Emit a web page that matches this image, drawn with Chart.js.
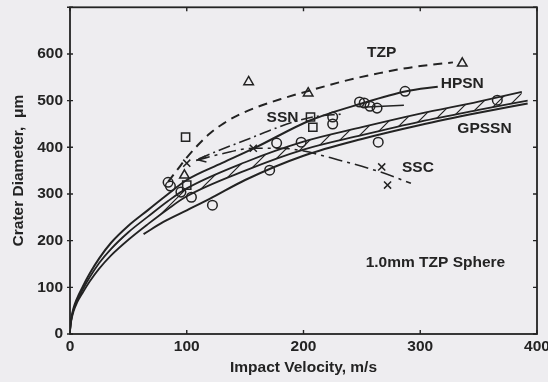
<!doctype html>
<html lang="en">
<head>
<meta charset="utf-8">
<title>Crater Diameter vs Impact Velocity</title>
<script src="https://cdn.jsdelivr.net/npm/chart.js@4.4.1/dist/chart.umd.min.js"></script>
<style>
    html, body { margin: 0; padding: 0; background: #eeedf0; }
</style>
</head>
<body>
<canvas id="myCanvas" width="548" height="382"></canvas>
<script>
    // measured points (impact velocity m/s, crater diameter um)
    const circleV = [84, 86, 95, 104, 122, 171, 177, 198, 225, 225, 248, 252, 257, 263, 264, 287, 366];
    const circleD = [325, 317, 304, 293, 276, 351, 409, 411, 450, 465, 497, 495, 488, 484, 411, 520, 501];
    const triV = [98, 153, 204, 336];
    const triD = [340, 540, 516, 580];
    const squareV = [99, 100, 206, 208];
    const squareD = [422, 319, 465, 443];
    const crossV = [100, 157, 267, 272];
    const crossD = [366, 398, 358, 319];

    // fitted curves
    const tzpV = [84, 92, 100, 110, 120, 132, 145, 160, 180, 206, 238, 265, 294, 328];
    const tzpD = [326, 352, 378, 406, 430, 452, 470, 486, 503, 522, 544, 559, 572, 582];
    const hpsnV = [0, 1, 3, 6, 11, 17, 25, 35, 50, 67, 84, 100, 130, 160, 205, 250, 288, 315];
    const hpsnD = [10, 32, 55, 76, 102, 130, 162, 195, 232, 266, 300, 330, 366, 401, 457, 494, 520, 530];
    const ssnV = [110, 130, 150, 170, 191, 210, 232];
    const ssnD = [375, 396, 415, 435, 454, 466, 471];
    const shortV = [250, 286];
    const shortD = [486, 490];
    const sscV = [108, 130, 157, 180, 198, 230, 266, 292];
    const sscD = [372, 386, 398, 398, 393, 373, 347, 323];
    const bandUpV = [0, 1, 3, 6, 11, 17, 25, 35, 50, 67, 84, 100, 150, 200, 250, 300, 350, 387];
    const bandUpD = [8, 30, 52, 72, 96, 122, 152, 182, 218, 252, 285, 312, 368, 412, 443, 472, 498, 519];
    const bandLoV = [0, 1, 3, 6, 11, 17, 25, 35, 50, 67, 84, 100, 150, 200, 250, 300, 350, 392];
    const bandLoD = [6, 27, 48, 67, 89, 113, 140, 168, 202, 236, 268, 295, 350, 395, 426, 455, 480, 500];
    const lowV = [63, 80, 100, 120, 150, 200, 250, 300, 350, 392];
    const lowD = [214, 240, 265, 290, 330, 382, 418, 448, 474, 494];

    const xTicks = [0, 100, 200, 300, 400];
    const yTicks = [0, 100, 200, 300, 400, 500, 600, 700];

    const noteText = ['TZP', 'HPSN', 'SSN', 'GPSSN', 'SSC', '1.0mm TZP Sphere'];
    const noteV = [267, 336, 182, 355, 298, 313];
    const noteD = [602, 536, 464, 440, 357, 153];

    const ink = '#232323';
    const font = '"Liberation Sans", Arial, sans-serif';

    function pts(xs, ys) {
        return xs.map((v, i) => ({x: v, y: ys[i]}));
    }

    var canvas = document.getElementById('myCanvas');
    var ctx = canvas.getContext('2d');

    // hatch for the GPSSN band
    var hc = document.createElement('canvas');
    hc.width = 15; hc.height = 15;
    var hg = hc.getContext('2d');
    hg.strokeStyle = ink;
    hg.lineWidth = 1.2;
    hg.beginPath();
    hg.moveTo(0, 15); hg.lineTo(15, 0);
    hg.moveTo(-8, 8); hg.lineTo(8, -8);
    hg.moveTo(7, 23); hg.lineTo(23, 7);
    hg.stroke();
    var hatch = ctx.createPattern(hc, 'repeat');

    function curve(data, dash, extra) {
        return Object.assign({
            data: data, showLine: true, borderColor: ink, borderWidth: 2,
            borderDash: dash, pointRadius: 0, tension: 0.4,
            cubicInterpolationMode: 'monotone', fill: false
        }, extra || {});
    }

    function marks(data, style, r) {
        return {
            data: data, showLine: false, pointStyle: style, pointRadius: r,
            pointBorderColor: ink, pointBackgroundColor: 'rgba(0,0,0,0)',
            pointBorderWidth: 1.5
        };
    }

    function noPad(s) {
        s.paddingTop = 0; s.paddingBottom = 0;
        s.paddingLeft = 0; s.paddingRight = 0;
    }

    const frame = {
        id: 'frame',
        beforeDraw(chart) {
            const c = chart.ctx;
            c.save();
            c.fillStyle = '#eeedf0';
            c.fillRect(0, 0, chart.width, chart.height);
            c.restore();
        },
        afterDraw(chart) {
            const c = chart.ctx;
            const a = chart.chartArea;
            const x = chart.scales.x, y = chart.scales.y;
            c.save();
            c.strokeStyle = ink;
            c.lineWidth = 1.8;
            c.strokeRect(a.left, a.top, a.right - a.left, a.bottom - a.top);
            c.lineWidth = 1.4;
            c.beginPath();
            xTicks.forEach(v => {
                const px = x.getPixelForValue(v);
                c.moveTo(px, a.bottom); c.lineTo(px, a.bottom - 4);
                c.moveTo(px, a.top); c.lineTo(px, a.top + 4);
            });
            yTicks.forEach(v => {
                const py = y.getPixelForValue(v);
                c.moveTo(a.left - 3, py); c.lineTo(a.left + 3, py);
                c.moveTo(a.right, py); c.lineTo(a.right - 4, py);
            });
            c.stroke();

            // little arrow head at the start of SSN / SSC
            const ax = x.getPixelForValue(ssnV[0]), ay = y.getPixelForValue(ssnD[0]);
            c.beginPath();
            c.moveTo(ax + 7, ay - 3); c.lineTo(ax, ay + 1); c.lineTo(ax + 8, ay + 3);
            c.stroke();

            c.fillStyle = ink;
            c.font = 'bold 15.5px ' + font;
            c.textAlign = 'center';
            c.textBaseline = 'middle';
            noteText.forEach((t, i) => {
                c.fillText(t, x.getPixelForValue(noteV[i]), y.getPixelForValue(noteD[i]));
            });
            c.restore();
        }
    };

    new Chart(canvas, {
        type: 'scatter',
        data: {
            datasets: [
                curve(pts(bandUpV, bandUpD), [], {fill: '+1', backgroundColor: hatch, borderWidth: 1.8}),
                curve(pts(bandLoV, bandLoD), [], {borderWidth: 1.8}),
                curve(pts(lowV, lowD), []),
                curve(pts(hpsnV, hpsnD), []),
                curve(pts(tzpV, tzpD), [9, 6]),
                curve(pts(ssnV, ssnD), [12, 4, 2, 4], {borderWidth: 1.6}),
                curve(pts(sscV, sscD), [14, 5, 3, 5], {borderWidth: 1.6}),
                curve(pts(shortV, shortD), [], {borderWidth: 1.6}),
                marks(pts(circleV, circleD), 'circle', 4.8),
                marks(pts(triV, triD), 'triangle', 5.5),
                marks(pts(squareV, squareD), 'rect', 5.8),
                marks(pts(crossV, crossD), 'crossRot', 5)
            ]
        },
        options: {
            responsive: false,
            animation: false,
            layout: {padding: {top: 7, right: 11, left: 0, bottom: 0}},
            plugins: {legend: {display: false}, tooltip: {enabled: false}},
            scales: {
                x: {
                    type: 'linear', min: 0, max: 400,
                    afterFit: s => { s.height = 48; noPad(s); },
                    grid: {display: false, drawTicks: false},
                    border: {display: false},
                    ticks: {
                        stepSize: 100, padding: 3, color: ink, maxRotation: 0,
                        font: {family: font, size: 15.5, weight: 'bold'}
                    },
                    title: {
                        display: true, text: 'Impact Velocity, m/s', color: ink,
                        padding: {top: 0, bottom: 5},
                        font: {family: font, size: 15.5, weight: 'bold'}
                    }
                },
                y: {
                    type: 'linear', min: 0, max: 700,
                    afterFit: s => { s.width = 70; noPad(s); },
                    grid: {display: false, drawTicks: false},
                    border: {display: false},
                    ticks: {
                        stepSize: 100, padding: 7, color: ink,
                        callback: v => (v === 700 ? null : v),
                        font: {family: font, size: 15.5, weight: 'bold'}
                    },
                    title: {
                        display: true, text: 'Crater Diameter,  \u03bcm', color: ink,
                        padding: {top: 9, bottom: 0},
                        font: {family: font, size: 15.5, weight: 'bold'}
                    }
                }
            }
        },
        plugins: [frame]
    });
</script>
</body>
</html>
